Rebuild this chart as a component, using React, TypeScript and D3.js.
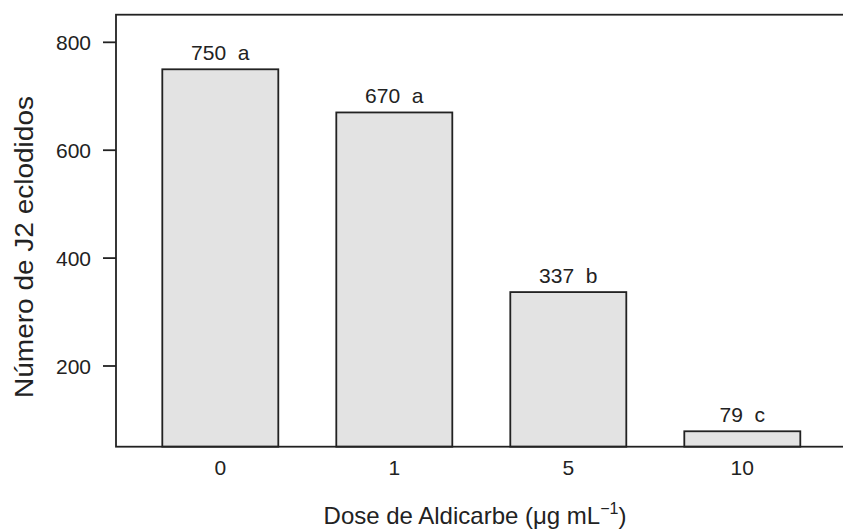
import React from "react";
import * as d3 from "d3";

const categories = ["0", "1", "5", "10"];
const values = [750, 670, 337, 79];
const letters = ["a", "a", "b", "c"];
const yTicks = [200, 400, 600, 800];

const W = 843;
const H = 529;
const plotLeft = 116;
const plotRight = 860;
const plotTop = 14.7;
const plotBottom = 446.7;
const ink = "#222";
const font = "'Liberation Sans', Arial, Helvetica, sans-serif";

export default function App() {
  const x = d3
    .scaleBand<string>()
    .domain(categories)
    .range([133.3, 829.3])
    .paddingInner(1 / 3)
    .paddingOuter(1 / 6);
  const y = d3.scaleLinear().domain([50.4, 851.2]).range([plotBottom, plotTop]);

  return (
    <svg
      width={W}
      height={H}
      style={{ position: "absolute", left: 0, top: 0, background: "#fff" }}
      fontFamily={font}
    >
      <rect x={0} y={0} width={W} height={H} fill="#fff" />
      {categories.map((c, i) => (
        <g key={c}>
          <rect
            x={x(c)}
            y={y(values[i])}
            width={x.bandwidth()}
            height={plotBottom - y(values[i])}
            fill="#e3e3e3"
            stroke={ink}
            strokeWidth={1.8}
          />
          <text
            x={(x(c) as number) + x.bandwidth() / 2}
            y={y(values[i]) - 9}
            textAnchor="middle"
            fontSize={21}
            fill={ink}
            style={{ whiteSpace: "pre" }}
          >
            {`${values[i]}  ${letters[i]}`}
          </text>
          <text
            x={(x(c) as number) + x.bandwidth() / 2}
            y={475}
            textAnchor="middle"
            fontSize={21}
            fill={ink}
          >
            {c}
          </text>
        </g>
      ))}
      <rect
        x={plotLeft}
        y={plotTop}
        width={plotRight - plotLeft}
        height={plotBottom - plotTop}
        fill="none"
        stroke={ink}
        strokeWidth={1.8}
      />
      {yTicks.map((t) => (
        <g key={t}>
          <line x1={plotLeft - 13} x2={plotLeft} y1={y(t)} y2={y(t)} stroke={ink} strokeWidth={1.8} />
          <text x={91} y={y(t)} dy="0.36em" textAnchor="end" fontSize={21} fill={ink}>
            {t}
          </text>
        </g>
      ))}
      <text
        transform={`translate(33,247) rotate(-90)`}
        textAnchor="middle"
        fontSize={25}
        textLength={302}
        lengthAdjust="spacingAndGlyphs"
        fill={ink}
      >
        Número de J2 eclodidos
      </text>
      <text x={475} y={524} textAnchor="middle" fontSize={24} fill={ink}>
        Dose de Aldicarbe (μg mL
        <tspan fontSize={16} dy={-10}>−1</tspan>
        <tspan dy={10}>)</tspan>
      </text>
    </svg>
  );
}
